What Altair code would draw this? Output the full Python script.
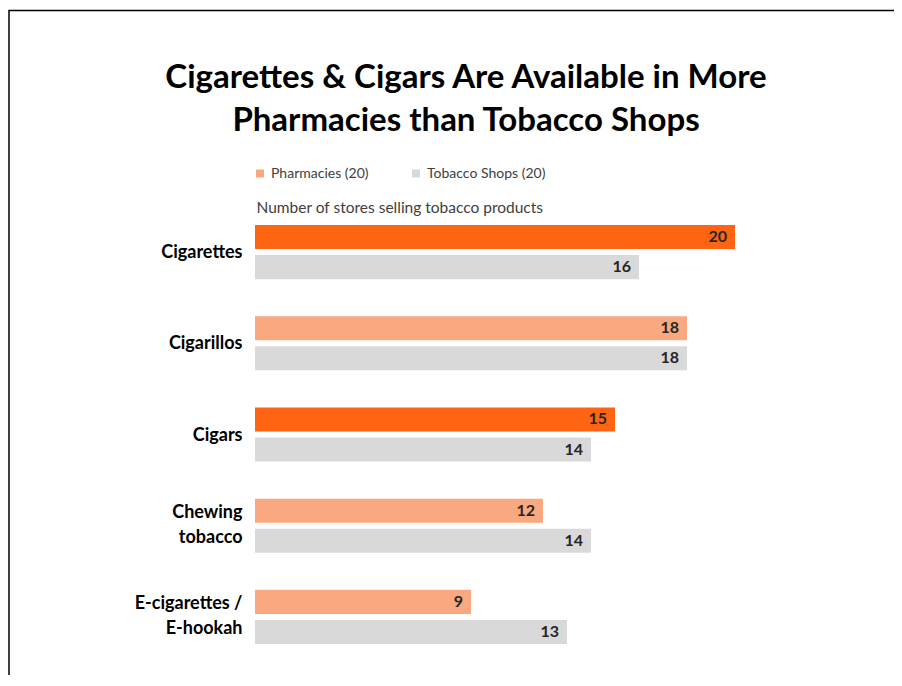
import altair as alt
import pandas as pd

categories = ["Cigarettes", "Cigarillos", "Cigars", "Chewing\ntobacco", "E-cigarettes /\nE-hookah"]
pharmacies = [20, 18, 15, 12, 9]
tobacco_shops = [16, 18, 14, 14, 13]
series = ["Pharmacies (20)", "Tobacco Shops (20)"]
highlight = ["Cigarettes", "Cigars"]

rows = []
for c, p, t in zip(categories, pharmacies, tobacco_shops):
    rows.append({"category": c, "series": series[0], "value": p,
                 "fill": "Highlight" if c in highlight else series[0]})
    rows.append({"category": c, "series": series[1], "value": t, "fill": series[1]})
df = pd.DataFrame(rows)

FONT = "Lato"

y_enc = alt.Y("category:N", sort=categories,
              scale=alt.Scale(paddingInner=0.4066, paddingOuter=0.2033),
              axis=alt.Axis(title=None, domain=False, ticks=False, labelPadding=13,
                            labelFontSize=18, labelFontWeight="bold", labelColor="#000000",
                            labelFont=FONT, labelLineHeight=25,
                            labelOffset={"condition": {"test": "indexof(datum.value, '\\n') >= 0",
                                                       "value": -13}, "value": 1},
                            labelExpr="split(datum.label, '\\n')"))
yoff = alt.YOffset("series:N", sort=series, scale=alt.Scale(paddingInner=0.2, paddingOuter=0))
x_enc = alt.X("value:Q", scale=alt.Scale(domain=[0, 20], nice=False),
              axis=alt.Axis(orient="top", title="Number of stores selling tobacco products",
                            labels=False, ticks=False, domain=False, grid=False,
                            titleFontSize=15.5, titleFontWeight="normal", titleColor="#404040",
                            titleFont=FONT, titleAnchor="start", titleAlign="left",
                            titleBaseline="middle", titleX=1, titleY=1))

bars = alt.Chart(df).mark_bar().encode(
    y=y_enc,
    yOffset=yoff,
    x=x_enc,
    color=alt.Color("fill:N",
                    scale=alt.Scale(domain=[series[0], series[1], "Highlight"],
                                    range=["#F9A87F", "#D9D9D9", "#FE6411"]),
                    legend=alt.Legend(title=None, values=series, orient="none",
                                      legendX=-2, legendY=-40, direction="horizontal",
                                      symbolType="square", symbolSize=64, symbolStrokeWidth=0,
                                      labelFontSize=14, labelColor="#404040", labelFont=FONT,
                                      labelOffset=4, columnPadding=40, padding=0)),
)

labels = alt.Chart(df).mark_text(align="right", baseline="middle", dx=-8,
                                 fontSize=16, fontWeight="bold", font=FONT,
                                 color="#262626").encode(
    y=alt.Y("category:N", sort=categories),
    yOffset=alt.YOffset("series:N", sort=series),
    x="value:Q",
    text="value:Q",
)

frame = alt.Chart(alt.Data(values=[{}])).mark_rect(filled=False, stroke="#000000",
                                                    strokeWidth=1.5).encode(
    x=alt.value(-246), x2=alt.value(1000), y=alt.value(-196), y2=alt.value(1000))

chart = alt.layer(frame, bars, labels).properties(
    width=480, height=456,
    title=alt.Title(["Cigarettes & Cigars Are Available in More", "Pharmacies than Tobacco Shops"],
                    fontSize=33, font=FONT, fontWeight="bold", color="#000000",
                    anchor="middle", frame="group", dx=-29, dy=132, lineHeight=43),
    autosize=alt.AutoSizeParams(type="none"),
    padding={"left": 247, "top": 198.5, "right": 159, "bottom": 12},
).configure_view(strokeWidth=0, stroke="transparent")

chart.save("out.html", embed_options={"renderer": "svg", "actions": False})
